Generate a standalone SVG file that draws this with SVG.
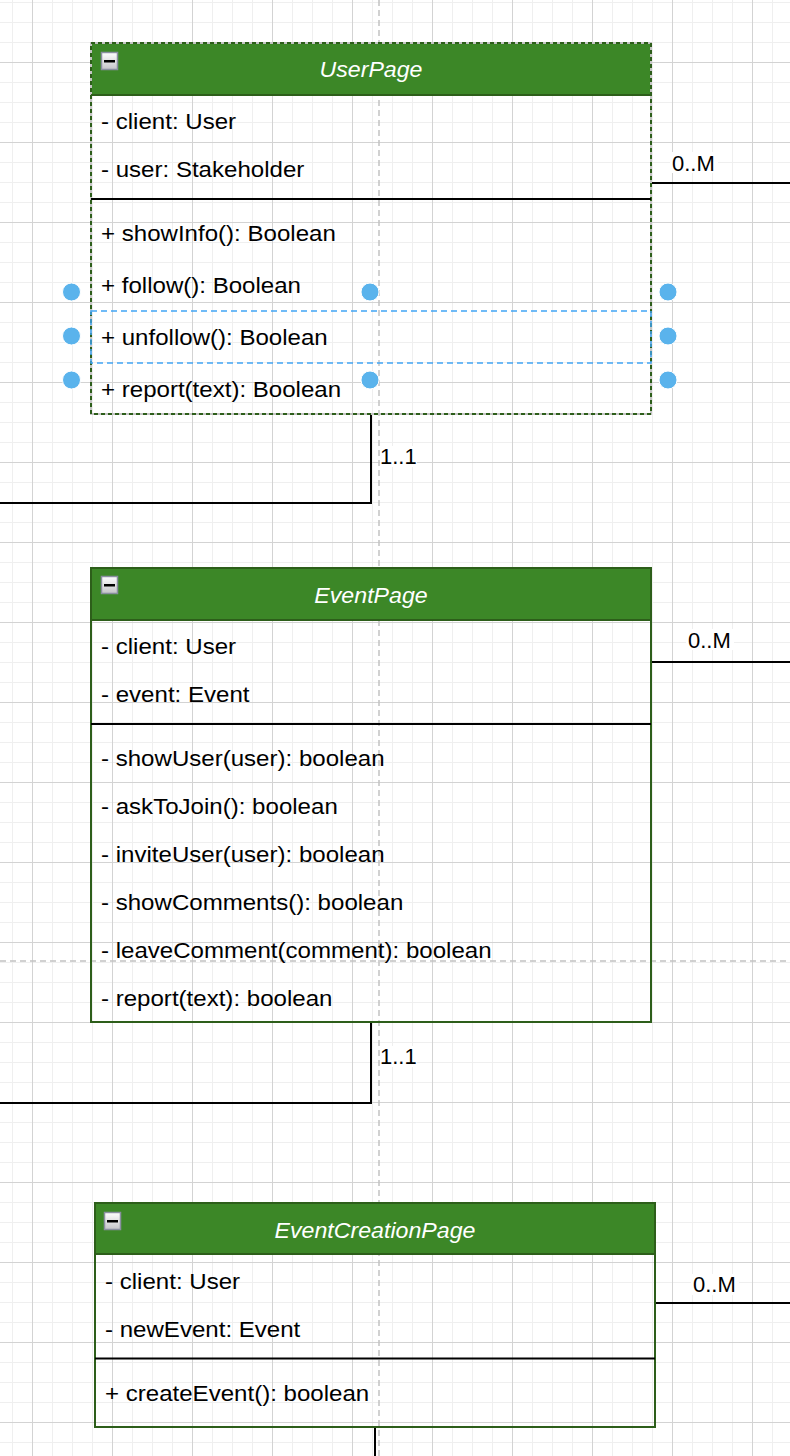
<svg xmlns="http://www.w3.org/2000/svg" width="790" height="1456" viewBox="0 0 790 1456">
<style>
.body{fill:none;stroke:#2d5e1a;stroke-width:2}
.hdr{fill:#3c8727;stroke:none}
.hline{stroke:#2d5e1a;stroke-width:2}
.sep{stroke:#000;stroke-width:2}
.t{font-family:"Liberation Sans",Arial,Helvetica,sans-serif;font-size:21.5px;fill:#000}
.title{font-family:"Liberation Sans",Arial,Helvetica,sans-serif;font-size:22.5px;font-style:italic;fill:#fff;text-anchor:middle}
.lbl{font-family:"Liberation Sans",Arial,Helvetica,sans-serif;font-size:22px;fill:#000}
.conn{fill:none;stroke:#000;stroke-width:2}
.guide{stroke:#c2c2c2;stroke-width:1.5;stroke-dasharray:6 4;fill:none}
.icon{fill:url(#ig);stroke:#8a8fa0;stroke-width:1.5}
.handle{fill:#5ab3ec;stroke:#fff;stroke-width:1}
.sel{fill:none;stroke:#42a5f5;stroke-width:1.5;stroke-dasharray:6 4}
</style>
<defs>
<pattern id="grid" x="32" y="62" width="80" height="80" patternUnits="userSpaceOnUse">
<path d="M20.5 0V80M40.5 0V80M60.5 0V80M0 20.5H80M0 40.5H80M0 60.5H80" stroke="#efefef" stroke-width="1" fill="none"/>
<path d="M0.5 0V80M0 0.5H80" stroke="#d3d3d3" stroke-width="1" fill="none"/>
</pattern>
<linearGradient id="ig" x1="0" y1="0" x2="0" y2="1">
<stop offset="0" stop-color="#ffffff"/>
<stop offset="1" stop-color="#c4c4c8"/>
</linearGradient>
</defs>
<rect x="0" y="0" width="790" height="1456" fill="#ffffff"/>
<rect x="0" y="0" width="790" height="1456" fill="url(#grid)"/>
<g id="guides">
<line class="guide" x1="379" y1="0" x2="379" y2="1456"/>
<line class="guide" x1="0" y1="961" x2="790" y2="961"/>
</g>
<g id="connectors">
<path class="conn" d="M651 183H790"/>
<path class="conn" d="M371 414V503H0"/>
<path class="conn" d="M651 662H790"/>
<path class="conn" d="M371 1022V1103H0"/>
<path class="conn" d="M655 1303H790"/>
<path class="conn" d="M375 1427V1456"/>
<rect x="670" y="152" width="48" height="21" fill="#fff"/>
<text class="lbl" x="672" y="170.5">0..M</text>
<rect x="380" y="446" width="37" height="21" fill="#fff"/>
<text class="lbl" x="380" y="464">1..1</text>
<rect x="686" y="629" width="48" height="21" fill="#fff"/>
<text class="lbl" x="688" y="647.5">0..M</text>
<rect x="380" y="1046" width="37" height="21" fill="#fff"/>
<text class="lbl" x="380" y="1064">1..1</text>
<rect x="691" y="1274" width="48" height="21" fill="#fff"/>
<text class="lbl" x="693" y="1292">0..M</text>
</g>
<g id="UserPage">
<rect class="hdr" x="91" y="43" width="560" height="52"/>
<rect x="91" y="43" width="560" height="371" fill="none" stroke="#c4c4c4" stroke-width="2"/>
<rect x="91" y="43" width="560" height="371" fill="none" stroke="#2d5e1a" stroke-width="2" stroke-dasharray="4 3"/>
<line class="hline" x1="91" y1="95" x2="651" y2="95"/>
<line class="sep" x1="91" y1="199" x2="651" y2="199"/>
<rect class="icon" x="101.5" y="52.5" width="16" height="17"/>
<rect x="104" y="60" width="11" height="2.5" fill="#000"/>
<g transform="translate(371 0) scale(1.03 1)"><text class="title" x="0" y="77.5">UserPage</text></g>
<g transform="translate(101 0) scale(1.12 1)">
<text class="t" x="0" y="129.5">- client: User</text>
<text class="t" x="0" y="177.5">- user: Stakeholder</text>
<text class="t" x="0" y="241.5">+ showInfo(): Boolean</text>
<text class="t" x="0" y="293.5">+ follow(): Boolean</text>
<text class="t" x="0" y="345.5">+ unfollow(): Boolean</text>
<text class="t" x="0" y="397.5">+ report(text): Boolean</text>
</g>
</g>
<g id="selection">
<rect class="sel" x="91" y="311" width="560" height="52"/>
<circle class="handle" cx="71.5" cy="292" r="9"/>
<circle class="handle" cx="370" cy="292" r="9"/>
<circle class="handle" cx="668" cy="292" r="9"/>
<circle class="handle" cx="71.5" cy="336" r="9"/>
<circle class="handle" cx="668" cy="336" r="9"/>
<circle class="handle" cx="71.5" cy="380" r="9"/>
<circle class="handle" cx="370" cy="380" r="9"/>
<circle class="handle" cx="668" cy="380" r="9"/>
</g>
<g id="EventPage">
<rect class="hdr" x="91" y="568" width="560" height="52"/>
<rect class="body" x="91" y="568" width="560" height="454"/>
<line class="hline" x1="91" y1="620" x2="651" y2="620"/>
<line class="sep" x1="91" y1="724" x2="651" y2="724"/>
<rect class="icon" x="101.5" y="576.5" width="16" height="17"/>
<rect x="104" y="584" width="11" height="2.5" fill="#000"/>
<g transform="translate(371 0) scale(1.03 1)"><text class="title" x="0" y="603">EventPage</text></g>
<g transform="translate(101 0) scale(1.12 1)">
<text class="t" x="0" y="654.5">- client: User</text>
<text class="t" x="0" y="702.5">- event: Event</text>
<text class="t" x="0" y="766.5">- showUser(user): boolean</text>
<text class="t" x="0" y="814.5">- askToJoin(): boolean</text>
<text class="t" x="0" y="862.5">- inviteUser(user): boolean</text>
<text class="t" x="0" y="910.5">- showComments(): boolean</text>
<text class="t" x="0" y="958.5">- leaveComment(comment): boolean</text>
<text class="t" x="0" y="1006.5">- report(text): boolean</text>
</g>
</g>
<g id="EventCreationPage">
<rect class="hdr" x="95" y="1203" width="560" height="51"/>
<rect class="body" x="95" y="1203" width="560" height="224"/>
<line class="hline" x1="95" y1="1254" x2="655" y2="1254"/>
<line class="sep" x1="95" y1="1358.5" x2="655" y2="1358.5"/>
<rect class="icon" x="104.5" y="1212.5" width="16" height="17"/>
<rect x="107" y="1220" width="11" height="2.5" fill="#000"/>
<g transform="translate(375 0) scale(1.03 1)"><text class="title" x="0" y="1238">EventCreationPage</text></g>
<g transform="translate(105 0) scale(1.12 1)">
<text class="t" x="0" y="1289">- client: User</text>
<text class="t" x="0" y="1337">- newEvent: Event</text>
<text class="t" x="0" y="1401.5">+ createEvent(): boolean</text>
</g>
</g>
</svg>
